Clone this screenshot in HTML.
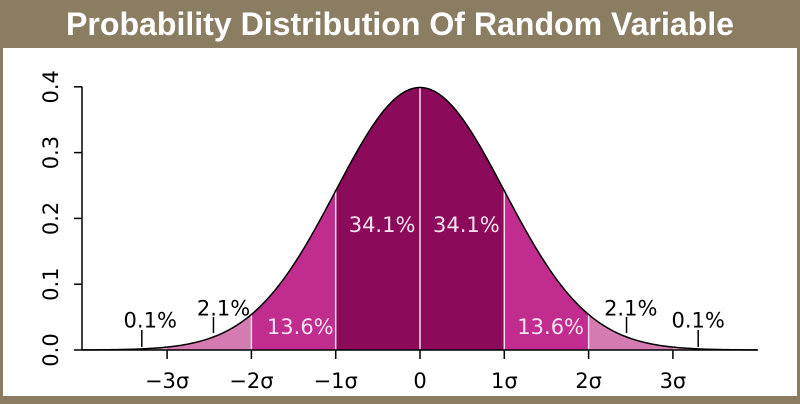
<!DOCTYPE html>
<html><head><meta charset="utf-8"><style>
body{margin:0;width:800px;height:400px;overflow:hidden;background:#8b7d62;font-family:"DejaVu Sans","Liberation Sans",sans-serif}
</style></head><body>
<svg width="800" height="400">
<rect x="0" y="0" width="800" height="400" fill="#8b7d62"/>
<rect x="3" y="48" width="794" height="348" fill="#fff"/>
<text x="400" y="35" text-anchor="middle" fill="#fff" font-family="Liberation Sans, sans-serif" font-weight="bold" font-size="32" textLength="668" lengthAdjust="spacingAndGlyphs">Probability Distribution Of Random Variable</text>
<g id="g"></g>
</svg>
<script>
const bandEdges=[-4,-3,-2,-1,0,1,2,3,4];
const bandColors=["#e3a9cb","#d47bb2","#c12d8f","#8b0a5a","#8b0a5a","#c12d8f","#d47bb2","#e3a9cb"];
const yTicks=[0,0.1,0.2,0.3,0.4];
const yTickLabels=["0.0","0.1","0.2","0.3","0.4"];
const xTicks=[-3,-2,-1,0,1,2,3];
const xTickLabels=["\u22123\u03c3","\u22122\u03c3","\u22121\u03c3","0","1\u03c3","2\u03c3","3\u03c3"];
const pctLabels=["0.1%","2.1%","13.6%","34.1%","34.1%","13.6%","2.1%","0.1%"];
const pctX=[-3.2,-2.33,-1.42,-0.45,0.55,1.55,2.5,3.3];
const pctY=[0.045,0.063,0.035,0.19,0.19,0.035,0.063,0.045];
const pctWhite=[false,false,true,true,true,true,false,false];
const markerX=[-3.3,-2.45,2.45,3.3];
const X=v=>420+v*84.3, Y=v=>350-v*658;
const pdf=x=>Math.exp(-x*x/2)/Math.sqrt(2*Math.PI);
const g=document.getElementById('g');
const NS='http://www.w3.org/2000/svg';
function mk(t,a){const e=document.createElementNS(NS,t);for(const k in a)e.setAttribute(k,a[k]);g.appendChild(e);return e;}
for(let i=0;i<bandColors.length;i++){
 const a=bandEdges[i],b=bandEdges[i+1];let d=`M${X(a)},${Y(0)}`;
 for(let k=0;k<=40;k++){const x=a+(b-a)*k/40;d+=`L${X(x)},${Y(pdf(x))}`;}
 d+=`L${X(b)},${Y(0)}Z`;
 const p=mk('path',{d,fill:bandColors[i]});
 
 
}
for(let i=1;i<bandEdges.length-1;i++){
 const v=bandEdges[i];if(Math.abs(v)>2)continue;
 const l=mk('line',{x1:X(v),x2:X(v),y1:Y(0),y2:Y(pdf(v)),stroke:'#f4dbe9','stroke-width':1.5});
 
 
}
let d='';for(let k=0;k<=400;k++){const x=-4+8*k/400;d+=(k?'L':'M')+X(x)+','+Y(pdf(x));}
const c=mk('path',{d,fill:'none',stroke:'#000','stroke-width':1.5});


const ax=mk('path',{d:`M82,${Y(0)}H758M82,${Y(0)}V${Y(0.4)}`,stroke:'#000','stroke-width':1.5,fill:'none'});


yTicks.forEach((v,i)=>{
 mk('line',{x1:74,x2:82,y1:Y(v),y2:Y(v),stroke:'#000','stroke-width':1.5});
 const t=mk('text',{x:0,y:0,transform:`translate(58,${Y(v)}) rotate(-90)`,'text-anchor':'middle','font-size':21});
 t.textContent=yTickLabels[i];
 
 
});
xTicks.forEach((v,i)=>{
 mk('line',{x1:X(v),x2:X(v),y1:Y(0),y2:Y(0)+9,stroke:'#000','stroke-width':1.5});
 const t=mk('text',{x:X(v),y:388,'text-anchor':'middle','font-size':21});
 t.textContent=xTickLabels[i];
 
 
});
pctLabels.forEach((s,i)=>{
 const t=mk('text',{x:X(pctX[i]),y:Y(pctY[i])+7,'text-anchor':'middle','font-size':21,fill:pctWhite[i]?'#f7e3ef':'#000'});
 t.textContent=s;
 
 
});
markerX.forEach(v=>{
 const far=Math.abs(v)>3;
 const l=mk('line',{x1:X(v),x2:X(v),y1:far?330:317,y2:far?347:333,stroke:'#000','stroke-width':1.5});
 
 
});
</script>
</body></html>
